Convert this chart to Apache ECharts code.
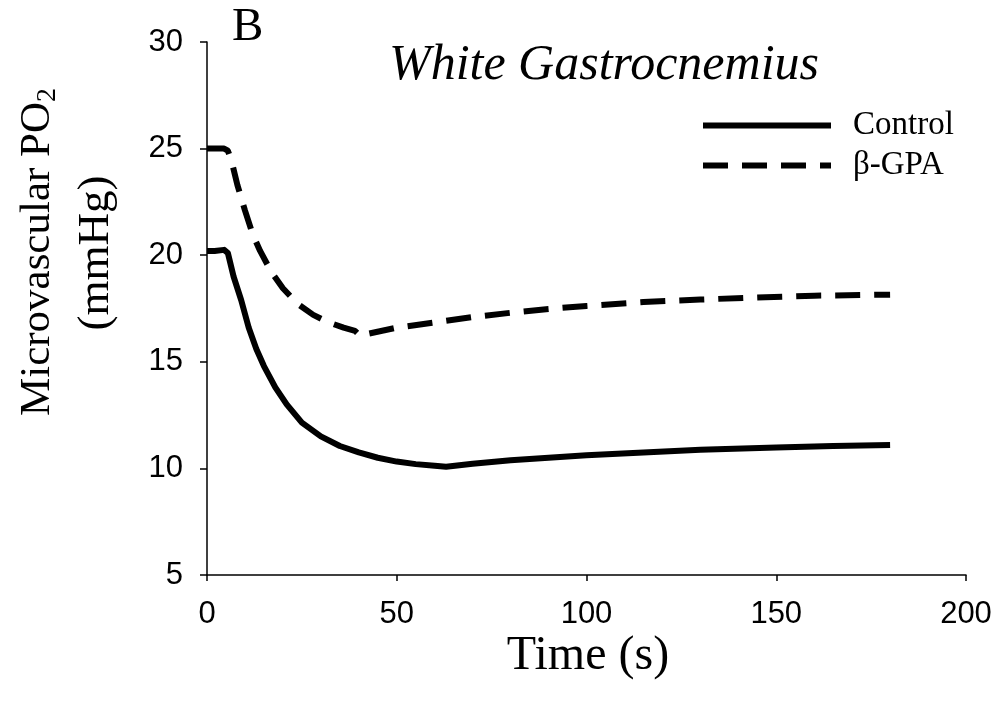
<!DOCTYPE html>
<html>
<head>
<meta charset="utf-8">
<script src="https://cdn.jsdelivr.net/npm/echarts@6/dist/echarts.min.js"></script>
<style>
  html, body { margin: 0; padding: 0; background: #fff; }
  #chart { width: 1000px; height: 708px; }
</style>
</head>
<body>
<div id="chart"></div>
<script>
// time (s) / PO2 (mmHg) pairs
var controlData = [
  [0, 20.2], [2, 20.2], [4.5, 20.25], [5.5, 20.1], [7, 19.0], [9, 17.9], [11, 16.6],
  [13, 15.6], [15, 14.8], [18, 13.8], [21, 13.0], [25, 12.15], [30, 11.5], [35, 11.05],
  [40, 10.75], [45, 10.5], [50, 10.32], [55, 10.2], [60, 10.12], [63, 10.08], [70, 10.22],
  [80, 10.38], [90, 10.5], [100, 10.62], [115, 10.75], [130, 10.87], [150, 10.98],
  [165, 11.05], [180, 11.1]
];
var gpaData = [
  [0, 25.0], [4.5, 25.0], [5.5, 24.9], [6.5, 24.4], [8, 23.3], [10, 22.1], [12, 21.0],
  [14, 20.2], [17, 19.2], [20, 18.45], [24, 17.7], [28, 17.2], [32, 16.85], [36, 16.6],
  [39, 16.45], [40.5, 16.2], [42, 16.3], [50, 16.6], [60, 16.85], [70, 17.1], [80, 17.3],
  [90, 17.48], [100, 17.62], [115, 17.8], [130, 17.92], [145, 18.02], [160, 18.1], [180, 18.15]
];
var seriesNames = ['Control', 'β-GPA'];

var chart = echarts.init(document.getElementById('chart'));
var serif = '"Liberation Serif", "DejaVu Serif", serif';
var sans = '"Liberation Sans", Arial, sans-serif';

chart.setOption({
  backgroundColor: '#fff',
  animation: false,
  grid: { left: 207, right: 34, top: 42, bottom: 133 },
  legend: {
    orient: 'vertical',
    left: 695,
    top: 104,
    itemWidth: 128,
    itemHeight: 18,
    itemGap: 7,
    lineStyle: { width: 6 },
    itemStyle: { opacity: 0 },
    textStyle: { fontFamily: serif, fontSize: 33, color: '#000', padding: [0, 0, 0, 17] },
    data: seriesNames
  },
  xAxis: {
    type: 'value',
    min: 0, max: 200, interval: 50,
    splitLine: { show: false },
    axisLine: { lineStyle: { color: '#000', width: 1.5 } },
    axisTick: { show: true, length: 6, lineStyle: { color: '#000', width: 1.5 } },
    axisLabel: { fontFamily: sans, fontSize: 31, color: '#000', margin: 24 }
  },
  yAxis: {
    type: 'value',
    min: 5, max: 30, interval: 5,
    splitLine: { show: false },
    axisLine: { show: true, lineStyle: { color: '#000', width: 1.5 } },
    axisTick: { show: true, length: 7, lineStyle: { color: '#000', width: 1.5 } },
    axisLabel: { fontFamily: sans, fontSize: 31, color: '#000', margin: 24 }
  },
  series: [
    {
      name: seriesNames[0],
      type: 'line',
      data: controlData,
      symbol: 'none',
      smooth: false,
      lineStyle: { color: '#000', width: 6, join: 'round' },
      itemStyle: { color: '#000' }
    },
    {
      name: seriesNames[1],
      type: 'line',
      data: gpaData,
      symbol: 'none',
      smooth: false,
      lineStyle: { color: '#000', width: 6, type: [25, 14] },
      itemStyle: { color: '#000' }
    }
  ],
  graphic: [
    {
      type: 'text', x: 232, y: 28,
      style: { text: 'B', font: '47px ' + serif, fill: '#000', verticalAlign: 'middle' }
    },
    {
      type: 'text', x: 604, y: 66,
      style: { text: 'White Gastrocnemius', font: 'italic 50px ' + serif, fill: '#000', align: 'center', verticalAlign: 'middle' }
    },
    {
      type: 'text', x: 588, y: 656,
      style: { text: 'Time (s)', font: '48px ' + serif, fill: '#000', align: 'center', verticalAlign: 'middle' }
    },
    {
      type: 'text', x: 38, y: 252, rotation: Math.PI / 2,
      style: {
        text: 'Microvascular PO{sub|2}',
        font: '43px ' + serif, fill: '#000', align: 'center', verticalAlign: 'middle',
        rich: { sub: { fontFamily: serif, fontSize: 28, verticalAlign: 'bottom', padding: [20, 0, 0, 0] } }
      }
    },
    {
      type: 'text', x: 96, y: 253, rotation: Math.PI / 2,
      style: { text: '(mmHg)', font: '45px ' + serif, fill: '#000', align: 'center', verticalAlign: 'middle' }
    }
  ]
});
</script>
</body>
</html>
